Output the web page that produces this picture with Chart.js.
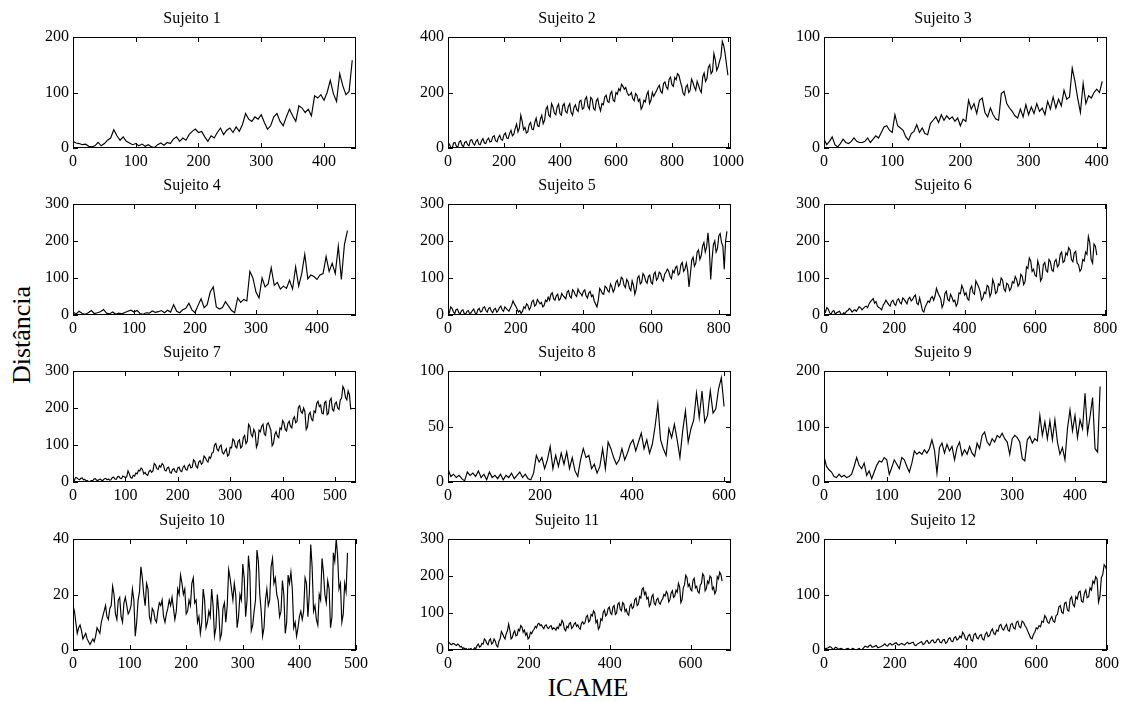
<!DOCTYPE html>
<html>
<head>
<meta charset="utf-8">
<script src="https://cdn.jsdelivr.net/npm/chart.js@4.4.1/dist/chart.umd.min.js"></script>
<style>
  body { margin: 0; background: #fff; width: 1126px; height: 702px; position: relative; overflow: hidden; font-family: 'Liberation Serif', serif; color: #000; }
  canvas { position: absolute; }
  #ylab { position: absolute; left: 22px; top: 335px; transform: translate(-50%, -50%) rotate(-90deg); font-size: 26px; white-space: nowrap; }
  #xlab { position: absolute; left: 588px; top: 688px; transform: translate(-50%, -50%); font-size: 25px; white-space: nowrap; }
</style>
</head>
<body>
<div id="ylab">Distância</div>
<div id="xlab">ICAME</div>
<script>
// Distance per subject, sampled every sampleSteps[i] ICAME units
const s1 = [12,9,8,6,7,3,2,4,10,4, 8,14,18,33,22,14,20,12,9,6, 8,4,7,3,6,2,1,6,9,5,
  10,8,16,20,12,18,14,24,30,34, 28,30,20,12,22,18,28,36,24,32, 36,28,38,30,42,62,52,48,56,52,
  60,46,34,40,56,62,48,40,56,70, 58,48,76,72,64,70,58,94,90,96, 86,100,122,98,84,134,112,96,102,158];
const s2 = [8,14,2,0,18,20,6,4,22,26, 10,4,20,24,12,8,28,30,16,10, 24,30,14,12,26,34,18,16,30,36,
  22,24,40,44,26,22,38,46,30,28, 48,54,36,34,52,64,44,50,70,86, 58,72,118,96,66,74,54,58,84,92,
  68,66,92,108,80,78,104,118,88,100, 140,150,118,112,160,148,126,120,148,158, 124,118,152,160,132,126,150,160,128,118,
  146,156,138,132,168,172,140,144,176,184, 150,140,182,176,142,136,170,178,150,134, 160,156,184,190,168,164,196,204,172,168,
  200,194,214,206,230,222,212,218,200,190, 192,200,178,170,196,190,168,176,140,150, 172,166,192,204,160,172,200,186,196,206,
  218,226,204,198,232,238,220,212,248,256, 228,222,254,246,268,262,240,222,196,190, 220,228,200,208,248,236,220,208,240,226,
  210,200,256,270,240,250,290,300,268,276, 340,318,280,292,312,330,384,370,340,300, 262];
const s3 = [8,3,6,10,3,1,4,8,5,4, 6,9,6,5,5,6,9,5,8,11, 9,14,19,20,16,14,30,20,18,16,
  10,7,13,15,21,14,18,13,12,22, 25,28,23,30,25,29,26,28,24,27, 20,26,24,43,35,40,31,43,45,32,
  28,36,30,26,25,49,51,40,36,33, 29,27,35,28,39,30,37,31,40,33, 36,30,42,35,46,36,44,38,52,44,
  46,72,60,45,32,58,40,47,45,50, 53,50,60];
const s4 = [8,3,10,4,2,6,12,4,6,9, 15,5,3,8,2,5,3,7,10,13, 8,12,4,2,6,5,11,7,9,12,
  6,13,8,28,10,6,14,18,32,14, 6,26,44,20,28,62,76,22,16,20, 36,24,12,6,46,34,42,38,118,100,
  62,46,100,76,84,128,80,88,70,78, 72,94,70,130,78,112,164,98,108,104, 96,108,112,158,118,140,112,186,96,190,
  228];
const s5 = [12,6,22,18,8,4,15,16,6,3, 12,14,4,2,10,12,3,6,12,16, 6,2,14,18,8,10,20,22,12,8,
  18,20,10,6,15,18,8,12,20,24, 14,10,22,18,14,10,18,26,38,30, 24,16,8,12,4,10,22,18,30,26,
  14,20,36,40,24,28,42,36,30,34, 22,26,40,36,48,40,56,60,44,40, 52,56,40,44,58,52,48,44,62,66,
  50,46,68,64,54,50,70,62,58,52, 64,68,52,46,60,64,50,54,38,30, 22,40,72,66,58,56,78,74,66,62,
  84,76,62,70,88,94,78,84,102,98, 80,74,96,90,72,66,92,80,56,70, 100,106,84,88,112,106,92,86,104,108,
  88,84,110,116,94,100,116,112,98,92, 110,116,124,118,104,98,120,114,128,132, 108,112,136,142,118,124,140,120,76,110,
  148,156,132,140,170,176,150,160,186,196, 170,184,222,180,96,150,190,200,170,180, 214,220,196,186,124,200,226];
const s6 = [14,8,20,16,6,2,10,12,2,6, 8,10,3,1,6,4,10,12,18,14, 8,12,14,10,16,22,20,14,18,22,
  24,20,30,36,40,44,32,36,24,20, 18,14,26,32,40,34,28,24,36,40, 30,26,40,44,34,30,46,42,36,30,
  44,48,38,42,50,54,32,28,46,30, 12,8,22,30,38,34,46,50,40,52, 72,60,52,44,20,30,58,64,42,38,
  56,48,36,40,24,32,60,58,80,70, 54,60,44,40,70,78,60,56,92,84, 76,64,40,46,62,58,80,76,50,60,
  96,84,58,62,84,80,100,94,70,64, 86,82,66,72,90,86,104,96,78,84, 110,104,82,90,130,126,154,146,118,124,
  108,104,146,132,92,100,136,142,120,116, 150,144,122,118,144,150,130,136,164,170, 142,146,168,162,182,176,150,144,168,172,
  140,136,118,124,150,146,170,164,212,196, 150,140,192,186,162];
const s7 = [6,4,12,11,8,6,10,11,6,7, 3,4,1,2,4,3,8,9,5,4, 7,8,4,5,9,10,6,8,5,6,
  12,13,8,7,14,15,10,9,16,14, 12,14,30,22,12,10,18,16,24,22, 32,30,38,34,22,26,20,18,28,32,
  26,30,50,46,36,34,44,40,50,46, 32,30,38,40,26,24,34,36,28,26, 38,40,30,28,40,44,34,32,44,48,
  38,40,60,56,42,38,54,58,48,52, 70,66,58,54,68,64,78,80,100,104, 88,84,96,100,80,76,84,90,70,74,
  94,92,116,112,96,92,110,114,92,96, 120,126,104,110,156,150,128,122,142,134, 94,104,140,136,150,156,130,126,156,160,
  150,140,98,104,128,136,124,120,146,142, 166,160,142,138,158,164,150,146,170,176, 160,164,202,206,190,186,200,190,142,150,
  182,188,170,166,192,188,212,218,204,208, 186,184,214,218,182,186,220,226,196,192, 212,216,200,196,222,226,258,250,228,222,
  246,236,196];
const s8 = [12,5,7,4,6,3,1,9,6,8, 5,10,4,7,2,9,4,6,3,7, 2,6,4,8,3,6,9,4,7,3,
  2,8,24,18,22,12,20,32,12,24, 14,26,16,27,12,22,10,5,20,30, 22,24,12,16,8,14,30,12,36,30,
  22,16,20,30,20,26,34,38,28,36, 44,30,38,26,34,50,70,38,30,24, 48,40,52,38,22,46,64,36,48,56,
  80,58,82,54,60,82,62,66,84,94, 68];
const s9 = [46,28,22,18,10,8,14,9,12,8, 10,14,28,44,30,24,34,12,20,6, 18,30,38,36,44,40,14,26,40,32,
  24,44,40,28,18,34,56,50,54,50, 58,52,60,76,58,16,62,70,52,68, 56,64,40,62,72,48,58,50,64,52,
  46,70,60,84,90,72,66,78,72,84, 80,88,78,72,50,78,84,80,72,42, 38,76,82,70,78,74,120,84,108,78,
  110,76,112,72,50,62,40,96,130,92, 120,80,112,96,160,88,118,152,60,54, 172];
const s10 = [16,14,10,6,8,9,7,4,5,6, 4,3,2,3,4,3,5,8,7,6, 10,12,14,16,12,11,15,16,23,20,
  13,11,18,19,12,10,17,19,16,13, 14,16,22,18,5,10,18,21,30,26, 20,16,24,22,12,10,15,14,11,10,
  14,17,16,18,12,10,13,15,18,16, 19,15,11,14,22,20,27,24,20,22, 13,14,18,16,24,26,17,18,10,12,
  6,10,22,18,8,10,14,12,22,16, 5,8,20,14,4,6,15,17,10,16, 29,26,22,18,24,20,8,12,20,18,
  31,26,12,18,34,28,7,9,14,18, 36,32,20,14,5,8,18,22,16,18, 30,33,24,26,20,18,12,14,25,20,
  6,10,27,24,28,22,8,10,5,8, 12,14,11,14,26,24,12,20,38,30, 14,16,11,9,20,18,33,28,20,17,
  25,22,8,12,35,32,40,34,22,24, 10,13,24,21,35];
const s11 = [18,20,16,14,18,17,14,12,16,14, 8,10,4,6,2,4,0,3,2,4, 0,2,6,4,12,16,8,10,18,16,
  30,26,18,14,26,30,16,20,30,24, 12,8,24,30,50,44,36,30,44,52, 70,54,30,34,46,52,38,40,56,52,
  66,62,48,54,40,46,30,34,48,44, 52,56,64,60,70,72,66,68,62,58, 66,68,60,58,64,66,56,60,58,54,
  62,58,70,66,80,74,56,52,64,60, 72,74,58,62,70,74,64,68,60,56, 72,76,70,74,90,94,76,80,96,92,
  106,100,74,80,56,62,84,80,102,108, 92,96,112,116,100,96,116,120,96,100, 124,128,110,106,128,124,104,110,98,94,
  118,124,112,116,136,140,120,124,144,140, 164,168,150,156,138,142,118,124,144,150, 126,122,136,140,128,124,134,138,150,146,
  158,152,130,136,154,160,142,146,162,156, 180,170,128,136,168,176,202,196,172,178, 164,160,188,194,168,172,158,154,176,180,
  206,200,160,166,186,180,200,196,164,170, 152,160,198,192,210,204,186];
const s12 = [5,2,3,4,6,5,2,1,5,4, 1,2,3,2,0,1,2,3,1,0, 3,2,1,0,2,3,0,1,4,7,
  6,5,8,9,5,6,7,8,4,5, 6,7,9,11,8,7,11,12,9,10, 12,13,10,9,11,12,10,9,12,14,
  11,12,13,14,9,8,11,12,14,15, 10,11,16,17,12,13,17,18,13,14, 19,20,14,13,18,19,12,14,20,22,
  16,15,22,24,18,20,25,22,32,28, 20,18,26,28,18,16,28,30,22,20, 26,28,20,18,28,32,24,26,34,38,
  30,28,36,34,44,46,38,36,42,46, 36,34,46,48,40,38,50,52,42,40, 52,50,44,40,34,28,22,20,28,32,
  40,38,44,42,52,50,62,58,50,48, 56,60,52,50,62,64,78,80,68,66, 84,86,72,70,92,96,82,78,96,92,
  104,106,88,86,102,108,94,96,112,108, 124,120,132,128,86,96,130,136,154,150, 142];

const series = [s1, s2, s3, s4, s5, s6, s7, s8, s9, s10, s11, s12];
const titles = ['Sujeito 1', 'Sujeito 2', 'Sujeito 3', 'Sujeito 4', 'Sujeito 5', 'Sujeito 6',
  'Sujeito 7', 'Sujeito 8', 'Sujeito 9', 'Sujeito 10', 'Sujeito 11', 'Sujeito 12'];
const sampleSteps = [5, 5, 4, 5, 4, 4, 2.5, 6, 4, 2.5, 3, 4];
const xMax = [451, 1011, 415, 464, 836, 805, 540, 615, 451, 500, 700, 800];
const yMax = [200, 400, 100, 300, 300, 300, 300, 100, 200, 40, 300, 200];

// tick labels
const t100to400 = [0, 100, 200, 300, 400];
const t100to500 = [0, 100, 200, 300, 400, 500];
const t200to600 = [0, 200, 400, 600];
const t200to800 = [0, 200, 400, 600, 800];
const t200to1000 = [0, 200, 400, 600, 800, 1000];
const xTicks = [t100to400, t200to1000, t100to400, t100to400, t200to800, t200to800,
  t100to500, t200to600, t100to400, t100to500, t200to600, t200to800];
const y200 = [0, 100, 200];
const y300 = [0, 100, 200, 300];
const y400 = [0, 200, 400];
const y100 = [0, 50, 100];
const y40 = [0, 20, 40];
const yTicks = [y200, y400, y100, y300, y300, y300, y300, y100, y200, y40, y300, y200];

// grid of plot boxes
const colLeft = [73, 448, 824];
const rowTop = [37, 204, 371, 539];
const plotW = 283, plotH = 111;
const axisW = 45, titleH = 32, axisH = 24, padR = 20;

const FONT = "'Liberation Serif', 'Times New Roman', serif";

// matlab-like frame: full box with tick marks pointing inward on all sides
const boxTicks = {
  id: 'boxTicks',
  afterDraw(chart) {
    const { ctx, chartArea: a, scales: { x, y } } = chart;
    const len = 5;
    ctx.save();
    ctx.strokeStyle = '#000';
    ctx.lineWidth = 1;
    ctx.beginPath();
    x.ticks.forEach(t => {
      const px = Math.round(x.getPixelForValue(t.value)) + 0.5;
      ctx.moveTo(px, a.bottom); ctx.lineTo(px, a.bottom - len);
      ctx.moveTo(px, a.top); ctx.lineTo(px, a.top + len);
    });
    y.ticks.forEach(t => {
      const py = Math.round(y.getPixelForValue(t.value)) + 0.5;
      ctx.moveTo(a.left, py); ctx.lineTo(a.left + len, py);
      ctx.moveTo(a.right, py); ctx.lineTo(a.right - len, py);
    });
    ctx.stroke();
    ctx.strokeRect(a.left + 0.5, a.top + 0.5, a.width - 1, a.height - 1);
    ctx.restore();
  }
};

series.forEach((vals, i) => {
  const col = i % 3, row = Math.floor(i / 3);
  const cv = document.createElement('canvas');
  cv.width = axisW + plotW + padR;
  cv.height = titleH + plotH + axisH;
  cv.style.left = (colLeft[col] - axisW) + 'px';
  cv.style.top = (rowTop[row] - titleH) + 'px';
  document.body.appendChild(cv);

  const step = sampleSteps[i];
  const points = vals.map((v, k) => ({ x: k * step, y: v }));

  new Chart(cv.getContext('2d'), {
    type: 'line',
    data: {
      datasets: [{
        data: points,
        borderColor: '#000',
        borderWidth: 1.15,
        pointRadius: 0,
        tension: 0,
        fill: false
      }]
    },
    options: {
      responsive: false,
      animation: false,
      events: [],
      layout: { padding: { left: 0, right: padR, top: 0, bottom: 0 } },
      plugins: {
        legend: { display: false },
        tooltip: { enabled: false },
        title: {
          display: true,
          text: titles[i],
          color: '#000',
          font: { family: FONT, size: 16, weight: 'normal', lineHeight: 1 },
          padding: { top: 6, bottom: 10 }
        }
      },
      scales: {
        x: {
          type: 'linear',
          min: 0,
          max: xMax[i],
          grid: { display: false, drawTicks: false },
          border: { display: false },
          afterBuildTicks: s => { s.ticks = xTicks[i].map(v => ({ value: v })); },
          ticks: {
            autoSkip: false,
            maxRotation: 0,
            padding: 4,
            color: '#000',
            font: { family: FONT, size: 16 },
            callback: v => String(v)
          },
          afterFit: s => { s.height = axisH; }
        },
        y: {
          type: 'linear',
          min: 0,
          max: yMax[i],
          grid: { display: false, drawTicks: false },
          border: { display: false },
          afterBuildTicks: s => { s.ticks = yTicks[i].map(v => ({ value: v })); },
          ticks: {
            padding: 4,
            color: '#000',
            font: { family: FONT, size: 16 },
            callback: v => String(v)
          },
          afterFit: s => { s.width = axisW; }
        }
      }
    },
    plugins: [boxTicks]
  });
});
</script>
</body>
</html>
